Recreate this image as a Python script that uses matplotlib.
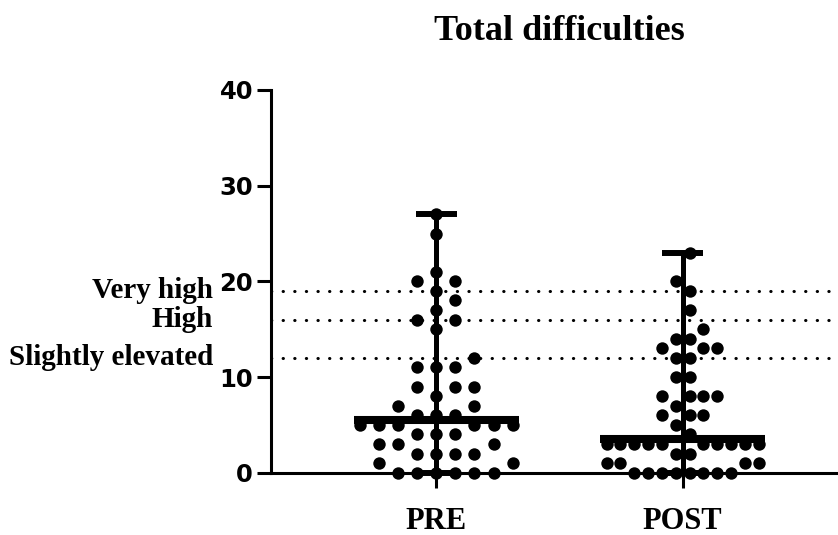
import numpy as np
import matplotlib
matplotlib.use("Agg")
import matplotlib.pyplot as plt
from matplotlib.transforms import blended_transform_factory

# scores (one entry per child)
groups = ["PRE", "POST"]
pre_scores = [0, 0, 0, 0, 0, 0, 1, 1, 2, 2, 2, 2, 3, 3, 3, 4, 4, 4,
              5, 5, 5, 5, 5, 5, 6, 6, 6, 7, 7, 8, 9, 9, 9, 11, 11, 11,
              12, 15, 16, 16, 17, 18, 19, 20, 20, 21, 25, 27]
post_scores = [0, 0, 0, 0, 0, 0, 0, 0, 1, 1, 1, 1, 2, 2,
               3, 3, 3, 3, 3, 3, 3, 3, 3, 3, 4, 5, 6, 6, 6, 7,
               8, 8, 8, 8, 10, 10, 12, 12, 13, 13, 13, 14, 14, 15,
               17, 19, 20, 23]
band_labels = ["Very high", "High", "Slightly elevated"]
band_cutoffs = [19, 16, 12]
y_ticks = [0, 10, 20, 30, 40]
title = "Total difficulties"

SERIF = "Liberation Serif"
SANS = "DejaVu Sans"


def swarm_offsets(values, shift=0.0):
    """Put every score on a slot grid, as close to the centre as possible,
    never in a slot already used by the same or a neighbouring score."""
    values = list(values)
    used = {}
    offsets = np.zeros(len(values))
    cand = sorted(range(-15, 16), key=lambda k: (abs(k + shift), -(k + shift)))
    for i in np.argsort(values, kind="stable"):
        v = values[i]
        taken = used.get(v, set()) | used.get(v - 1, set()) | used.get(v + 1, set())
        for k in cand:
            if k not in taken:
                break
        used.setdefault(v, set()).add(k)
        offsets[i] = k + shift
    return offsets


W, H = 838, 535
fig = plt.figure(figsize=(W / 100, H / 100), dpi=100)
ax = fig.add_axes([271 / W, (H - 472.7) / H, 1 - 271 / W, (472.7 - 90) / H])
ax.set_ylim(0, 40)
ax.set_xlim(0.328, 2.631)

spread = 0.309      # half width of the widest row, data units
slot_shift = [0.0, 0.5]
for pos, scores, sh in zip([1, 2], [pre_scores, post_scores], slot_shift):
    off = swarm_offsets(scores, sh)
    off = off / np.abs(off).max() * spread
    ax.scatter(pos + off, scores, s=80, color="black", linewidths=0,
               zorder=2, clip_on=False)
    lo, hi, med = min(scores), max(scores), np.median(scores)
    ax.plot([pos, pos], [lo, hi], color="black", lw=3.6,
            solid_capstyle="butt", zorder=3, clip_on=False)
    for v in (lo, hi):
        ax.plot([pos - 0.083, pos + 0.083], [v, v], color="black", lw=4.3,
                solid_capstyle="butt", zorder=3, clip_on=False)
    ax.plot([pos - 0.335, pos + 0.335], [med, med], color="black", lw=5.8,
            solid_capstyle="butt", zorder=3)

# clinical bands
trans = blended_transform_factory(fig.transFigure, ax.transData)
for lab, c in zip(band_labels, band_cutoffs):
    ax.axhline(c, color="black", lw=2.2, ls=(0, (0.1, 3.7)),
               dash_capstyle="round", zorder=1)
    ax.text(213 / W, c, lab, transform=trans, ha="right", va="center",
            fontsize=21, fontweight="bold", family=SERIF, clip_on=False)

for side in ["top", "right"]:
    ax.spines[side].set_visible(False)
for side in ["left", "bottom"]:
    ax.spines[side].set_linewidth(2.2)

ax.set_yticks(y_ticks)
ax.set_yticklabels([str(t) for t in y_ticks], fontsize=17.5,
                   fontweight="bold", family=SANS)
ax.tick_params(axis="y", direction="out", length=10, width=2.2, pad=3)
ax.set_xticks([1, 2])
ax.set_xticklabels(groups, fontsize=22, fontweight="bold", family=SERIF)
ax.tick_params(axis="x", direction="out", length=11, width=2.2, pad=14)

fig.text(559 / W, 1 - 40 / H, title, ha="center", va="baseline",
         fontsize=26, fontweight="bold", family=SERIF)

fig.savefig("out.png", dpi=100)
